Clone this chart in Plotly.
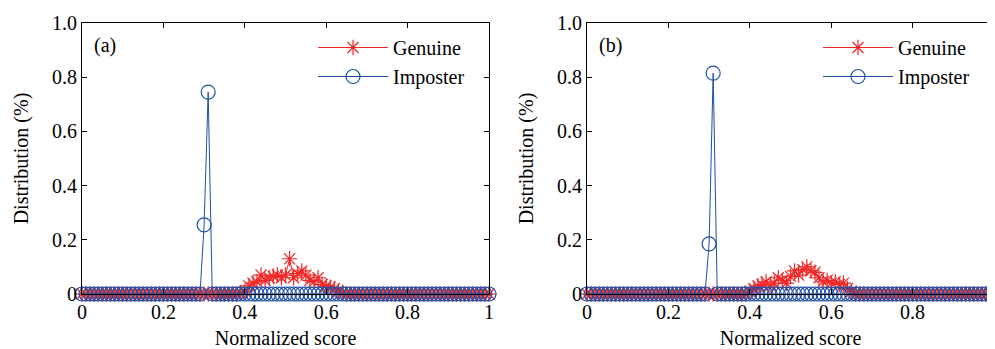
import numpy as np
import plotly.graph_objects as go

# ---- data ----
scores = [round(i * 0.01, 2) for i in range(101)]

imposter_a = {0.30: 0.255, 0.31: 0.745}
imposter_b = {0.30: 0.185, 0.31: 0.815}

genuine_a = {
    0.39: 0.005, 0.40: 0.01, 0.41: 0.03, 0.42: 0.04, 0.43: 0.045, 0.44: 0.07,
    0.45: 0.05, 0.46: 0.06, 0.47: 0.065, 0.48: 0.07, 0.49: 0.06, 0.50: 0.07,
    0.51: 0.13, 0.52: 0.06, 0.53: 0.075, 0.54: 0.085, 0.55: 0.07, 0.56: 0.05,
    0.57: 0.045, 0.58: 0.06, 0.59: 0.035, 0.60: 0.03, 0.61: 0.025, 0.62: 0.02,
    0.63: 0.01, 0.64: 0.005,
}
genuine_b = {
    0.40: 0.01, 0.41: 0.02, 0.42: 0.03, 0.43: 0.035, 0.44: 0.045, 0.45: 0.03,
    0.46: 0.04, 0.47: 0.06, 0.48: 0.05, 0.49: 0.04, 0.50: 0.065, 0.51: 0.085,
    0.52: 0.07, 0.53: 0.09, 0.54: 0.10, 0.55: 0.085, 0.56: 0.08, 0.57: 0.06,
    0.58: 0.045, 0.59: 0.05, 0.60: 0.04, 0.61: 0.045, 0.62: 0.035, 0.63: 0.04,
    0.64: 0.02, 0.65: 0.01,
}

x_ticks = [0, 0.2, 0.4, 0.6, 0.8, 1]
x_tick_labels = ["0", "0.2", "0.4", "0.6", "0.8", "1"]
y_ticks = [0, 0.2, 0.4, 0.6, 0.8, 1.0]
y_tick_labels = ["0", "0.2", "0.4", "0.6", "0.8", "1.0"]
panel_labels = ["(a)", "(b)"]


def series(d):
    return [d.get(s, 0.0) for s in scores]


RED = "rgb(240,40,40)"
BLUE = "rgb(30,80,165)"
FONT = "'Liberation Serif', 'Times New Roman', 'DejaVu Serif', serif"
FS = 20

fig = go.Figure()

panels = [
    (genuine_a, imposter_a, "x", "y", "legend"),
    (genuine_b, imposter_b, "x2", "y2", "legend2"),
]
for gen, imp, xa, ya, lg in panels:
    fig.add_trace(go.Scatter(
        x=scores, y=series(gen), xaxis=xa, yaxis=ya, name="Genuine",
        mode="lines+markers", legend=lg, cliponaxis=False,
        line=dict(color=RED, width=1),
        marker=dict(symbol="asterisk-open", size=13, color=RED,
                    line=dict(color=RED, width=1.2)),
    ))
    fig.add_trace(go.Scatter(
        x=scores, y=series(imp), xaxis=xa, yaxis=ya, name="Imposter",
        mode="lines+markers", legend=lg, cliponaxis=False,
        line=dict(color=BLUE, width=1),
        marker=dict(symbol="circle-open", size=14, color=BLUE,
                    line=dict(color=BLUE, width=1.2)),
    ))

W, H = 995, 349
OFF = 8  # page body margin
ydom = [(H - 294 + OFF) / H, (H - 23 + OFF) / H]
xdoms = [[(82 - OFF) / W, (489 - OFF) / W], [(587 - OFF) / W, (994 - OFF) / W]]

axis_common = dict(
    showline=True, linecolor="black", linewidth=1, mirror="ticks",
    ticks="inside", ticklen=5, tickcolor="black", showgrid=False,
    zeroline=False, automargin=False,
    tickfont=dict(family=FONT, size=FS, color="black"),
)

for i, (dom, suffix) in enumerate(zip(xdoms, ["", "2"])):
    fig.update_layout({
        f"xaxis{suffix}": dict(
            domain=dom, range=[0, 1], anchor=f"y{suffix}",
            tickvals=x_ticks, ticktext=x_tick_labels,
            title=dict(text="Normalized score", font=dict(family=FONT, size=FS, color="black"), standoff=8),
            **axis_common),
        f"yaxis{suffix}": dict(
            domain=ydom, range=[0, 1], anchor=f"x{suffix}",
            tickvals=y_ticks, ticktext=y_tick_labels,
            title=dict(text="Distribution (%)", font=dict(family=FONT, size=FS, color="black"), standoff=18),
            **axis_common),
    })
    fig.add_annotation(
        x=dom[0] + 23 / W, y=ydom[1] - 22 / H, xref="paper", yref="paper",
        text=panel_labels[i], showarrow=False, xanchor="center", yanchor="middle",
        font=dict(family=FONT, size=FS, color="black"),
    )

legend_common = dict(
    bgcolor="rgba(0,0,0,0)", borderwidth=0, itemwidth=70,
    font=dict(family=FONT, size=FS, color="black"),
    xanchor="left", yanchor="top", tracegroupgap=0,
)
fig.update_layout(
    legend=dict(x=305 / W, y=1 - 20 / H, **legend_common),
    legend2=dict(x=810 / W, y=1 - 20 / H, **legend_common),
    width=W, height=H, margin=dict(l=0, r=0, t=0, b=0),
    plot_bgcolor="white", paper_bgcolor="white", showlegend=True,
)

fig.write_html("out.html")
